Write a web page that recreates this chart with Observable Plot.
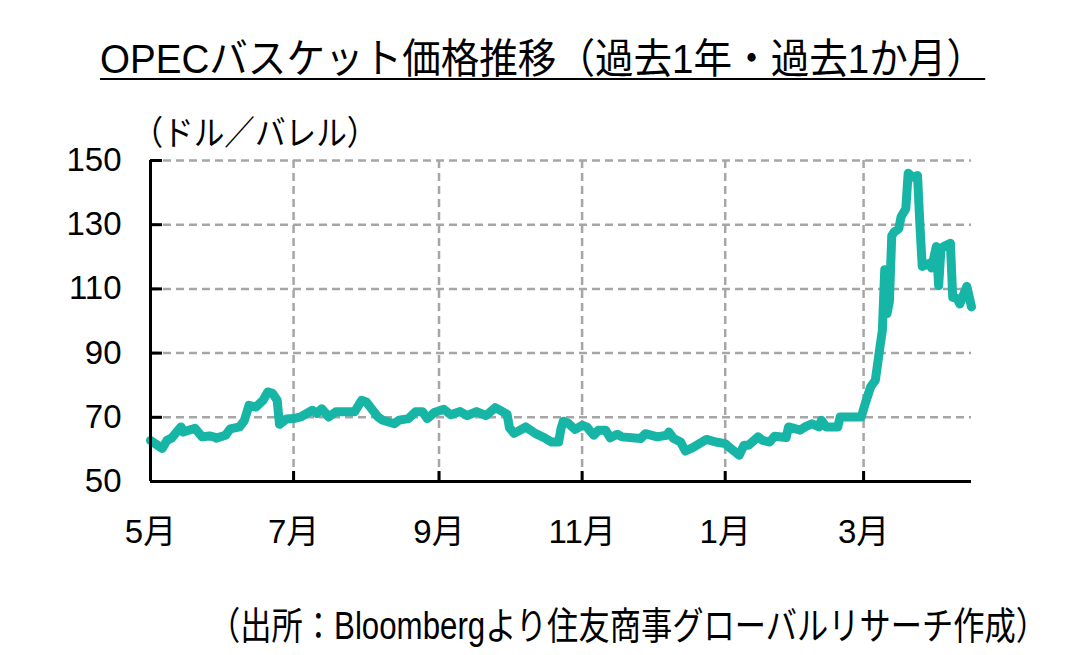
<!DOCTYPE html>
<html><head><meta charset="utf-8">
<script src="https://cdn.jsdelivr.net/npm/d3@7"></script>
<script src="https://cdn.jsdelivr.net/npm/@observablehq/plot@0.6"></script>
<style>
html,body{margin:0;padding:0;background:#fff;}
body{width:1085px;height:655px;overflow:hidden;font-family:"Liberation Sans","Noto Sans CJK JP",sans-serif;color:#000;}
#title{position:relative;height:100px;}
#title span{position:absolute;left:100px;top:40px;font-size:41px;line-height:38px;white-space:nowrap;transform-origin:0 0;border-bottom:2.5px solid #000;}
#chart{height:500px;}
#caption{position:relative;height:55px;}
#caption span{position:absolute;left:209px;top:7px;font-size:38px;line-height:38px;white-space:nowrap;transform-origin:0 0;}
</style>
</head><body>
<div id="title"><span id="titleText"></span></div>
<div id="chart"></div>
<div id="caption"><span id="captionText"></span></div>
<script>
const titleText = "OPECバスケット価格推移（過去1年・過去1か月）";
const unitLabel = "（ドル／バレル）";
const captionText = "（出所：Bloombergより住友商事グローバルリサーチ作成）";

const xStart = "2021-05-01";
const xEnd = "2022-04-16";
const xTickDates = ["2021-05-01","2021-07-01","2021-09-01","2021-11-01","2022-01-01","2022-03-01"];
const xTickLabels = ["5月","7月","9月","11月","1月","3月"];
const yTicks = [50,70,90,110,130,150];

const dates = [
"2021-05-01","2021-05-06","2021-05-08","2021-05-10","2021-05-14","2021-05-15","2021-05-20","2021-05-23","2021-05-26","2021-05-28",
"2021-05-29","2021-06-02","2021-06-04","2021-06-08","2021-06-10","2021-06-12","2021-06-15","2021-06-18","2021-06-20","2021-06-22",
"2021-06-24","2021-06-25","2021-06-28","2021-07-01","2021-07-04","2021-07-09","2021-07-11","2021-07-13","2021-07-16","2021-07-19",
"2021-07-27","2021-07-30","2021-08-01","2021-08-06","2021-08-08","2021-08-13","2021-08-15","2021-08-19","2021-08-22","2021-08-25",
"2021-08-27","2021-08-30","2021-09-03","2021-09-06","2021-09-10","2021-09-13","2021-09-17","2021-09-21","2021-09-25","2021-09-30",
"2021-10-01","2021-10-03","2021-10-08","2021-10-12","2021-10-16","2021-10-19","2021-10-22","2021-10-23","2021-10-24","2021-10-26",
"2021-10-29","2021-11-01","2021-11-03","2021-11-06","2021-11-08","2021-11-11","2021-11-13","2021-11-16","2021-11-18","2021-11-26",
"2021-11-28","2021-12-03","2021-12-07","2021-12-08","2021-12-10","2021-12-13","2021-12-15","2021-12-18","2021-12-24","2021-12-28",
"2022-01-01","2022-01-03","2022-01-07","2022-01-09","2022-01-11","2022-01-15","2022-01-17","2022-01-20","2022-01-22","2022-01-27",
"2022-01-28","2022-02-02","2022-02-04","2022-02-07","2022-02-10","2022-02-11","2022-02-13","2022-02-18","2022-02-19","2022-02-28",
"2022-03-02","2022-03-04","2022-03-06","2022-03-08","2022-03-09","2022-03-10","2022-03-11","2022-03-12","2022-03-13","2022-03-14",
"2022-03-16","2022-03-17","2022-03-19","2022-03-20","2022-03-22","2022-03-24","2022-03-25","2022-03-26","2022-03-29","2022-03-30",
"2022-04-01","2022-04-02","2022-04-03","2022-04-05","2022-04-07","2022-04-08","2022-04-10","2022-04-11","2022-04-14","2022-04-16"
];
const prices = [
62.8,60.3,62.8,63.5,67.0,65.4,66.6,63.9,64.2,63.9,
63.5,64.4,66.4,67.0,69.0,73.7,73.2,75.3,77.9,77.5,
75.3,67.8,69.5,69.6,70.1,72.2,71.2,72.7,70.1,71.7,
71.7,75.3,74.8,70.1,69.1,68.0,69.1,69.6,71.7,71.7,
69.6,71.5,72.5,70.8,71.8,70.5,71.8,70.5,73.0,71.0,
66.8,65.0,67.0,65.0,63.6,62.3,62.3,66.5,68.8,68.2,
66.2,67.5,67.0,64.4,66.0,66.0,63.6,64.7,63.9,63.4,
64.9,63.9,64.4,65.4,63.4,62.3,59.5,60.5,63.1,62.3,
61.8,60.5,58.2,61.3,61.3,63.9,62.8,62.3,64.1,63.7,
67.0,66.0,67.0,68.0,67.0,69.1,67.0,67.0,70.1,70.1,
75.0,79.5,81.5,92.0,97.0,116.0,102.3,106.0,126.5,127.7,
128.8,132.5,135.0,146.0,144.8,145.3,130.0,117.0,118.0,116.5,
123.2,111.0,122.7,123.5,124.2,107.4,106.9,105.3,110.8,104.4
];

const data = dates.map((d, i) => ({date: new Date(d), value: prices[i]}));
const xTicks = xTickDates.map(d => new Date(d));

const W = 1085, H = 500, mL = 150, mR = 114, mT = 60, mB = 119;
const plotW = W - mL - mR, plotH = H - mT - mB;
const font = '"Liberation Sans","Noto Sans CJK JP",sans-serif';
const gridStyle = {stroke: "#a6a6a6", strokeWidth: 2.5, strokeDasharray: "8,5"};

const chart = Plot.plot({
  width: W, height: H,
  marginLeft: mL, marginRight: mR, marginTop: mT, marginBottom: mB,
  style: {fontFamily: font, fontSize: "33px", color: "#000", background: "#fff", overflow: "visible"},
  x: {type: "utc", domain: [new Date(xStart), new Date(xEnd)]},
  y: {domain: [50, 150]},
  marks: [
    Plot.ruleY(yTicks.filter(v => v > 50), gridStyle),
    Plot.ruleX(xTicks.slice(1), gridStyle),
    Plot.line(data, {x: "date", y: "value", stroke: "#17b5a6", strokeWidth: 9, strokeLinejoin: "round", strokeLinecap: "round"}),
    Plot.ruleX([xTicks[0]], {stroke: "#000", strokeWidth: 3}),
    Plot.ruleY([50], {stroke: "#000", strokeWidth: 3}),
    Plot.tickY(yTicks, {y: d => d, stroke: "#000", strokeWidth: 3, insetRight: plotW - 12}),
    Plot.tickX(xTicks.slice(1), {x: d => d, stroke: "#000", strokeWidth: 3, insetTop: plotH - 10}),
    Plot.axisY({ticks: yTicks, tickSize: 0, tickPadding: 29, fontSize: 33, label: null}),
    Plot.axisX({ticks: xTicks, tickSize: 0, tickPadding: 38, fontSize: 33, label: null,
      tickFormat: d => xTickLabels[xTicks.findIndex(t => +t === +d)]}),
    Plot.text([unitLabel], {frameAnchor: "top-left", dx: -18, dy: -40, textAnchor: "start", fontSize: 34, className: "unit-label"})
  ]
});
document.getElementById("chart").appendChild(chart);

const unitText = chart.querySelector(".unit-label text");
if (unitText) {
  unitText.setAttribute("textLength", 245);
  unitText.setAttribute("lengthAdjust", "spacingAndGlyphs");
}

function fit(id, text, targetWidth) {
  const el = document.getElementById(id);
  el.textContent = text;
  const w = el.getBoundingClientRect().width;
  el.style.transform = `scaleX(${targetWidth / w})`;
}
fit("titleText", titleText, 885);
fit("captionText", captionText, 838);
</script>
</body></html>
